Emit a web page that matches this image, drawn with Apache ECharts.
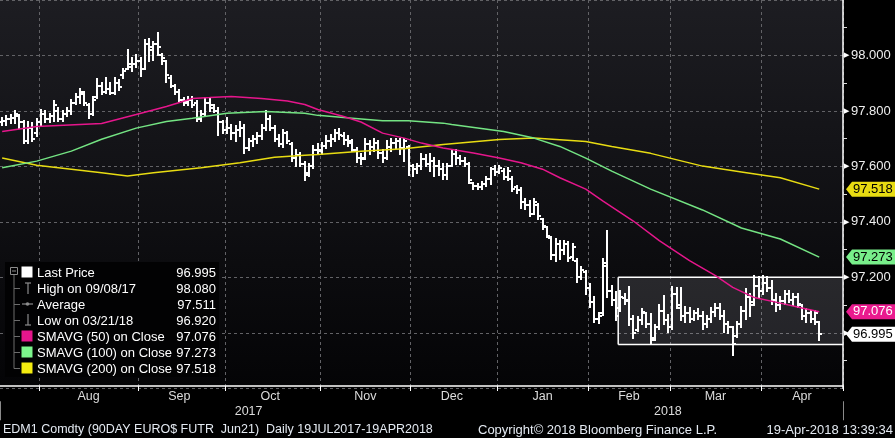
<!doctype html>
<html>
<head>
<meta charset="utf-8">
<script src="https://cdn.jsdelivr.net/npm/echarts@6/dist/echarts.min.js"></script>
<style>
    html, body { margin: 0; padding: 0; background: #000; }
    #chart { width: 895px; height: 438px; }
</style>
</head>
<body>
<div id="chart"></div>
<script type="text/javascript">
    // trading calendar: weekdays between these dates, minus exchange holidays
    var firstDay = '2017-07-19';
    var lastDay = '2018-04-19';
    var holidays = ['2017-09-04', '2017-11-23', '2017-12-25', '2018-01-01', '2018-01-15', '2018-02-19', '2018-03-30'];
    var padDays = 5; // empty days to the right of the last bar

    // daily bars
    var openPx = [97.760,97.765,97.770,97.775,97.780,97.760,97.690,97.740,97.720,97.760,
        97.790,97.770,97.780,97.800,97.770,97.790,97.800,97.830,97.850,97.860,
        97.820,97.790,97.850,97.890,97.870,97.880,97.865,97.900,97.930,97.950,
        97.960,97.970,97.980,97.950,98.040,98.020,98.040,98.000,97.980,97.920,
        97.890,97.870,97.840,97.830,97.840,97.830,97.770,97.790,97.830,97.810,
        97.800,97.760,97.730,97.740,97.720,97.730,97.740,97.665,97.690,97.700,
        97.710,97.740,97.770,97.740,97.700,97.680,97.720,97.680,97.630,97.640,
        97.610,97.570,97.600,97.660,97.660,97.675,97.690,97.700,97.720,97.710,
        97.695,97.685,97.660,97.630,97.630,97.680,97.670,97.685,97.650,97.630,
        97.670,97.685,97.690,97.665,97.670,97.600,97.590,97.600,97.625,97.610,
        97.620,97.600,97.590,97.570,97.600,97.645,97.630,97.620,97.610,97.540,
        97.530,97.525,97.535,97.555,97.590,97.580,97.585,97.560,97.555,97.525,
        97.515,97.470,97.460,97.430,97.460,97.410,97.380,97.340,97.280,97.320,
        97.300,97.320,97.275,97.260,97.200,97.220,97.160,97.110,97.050,97.070,
        97.250,97.150,97.120,97.090,97.125,97.120,97.050,97.010,97.045,97.070,
        97.030,96.980,97.020,97.080,97.045,97.020,97.140,97.090,97.060,97.070,
        97.050,97.070,97.060,97.030,97.050,97.075,97.090,97.060,97.030,97.020,
        96.990,97.030,97.080,97.130,97.110,97.170,97.150,97.180,97.160,97.120,
        97.100,97.115,97.140,97.120,97.130,97.100,97.060,97.070,97.050,97.040];
    var highPx = [97.775,97.780,97.785,97.800,97.785,97.765,97.760,97.755,97.770,97.805,
        97.800,97.790,97.835,97.810,97.800,97.810,97.840,97.860,97.880,97.870,
        97.825,97.850,97.915,97.900,97.920,97.900,97.920,97.910,97.950,98.020,
        97.990,98.000,97.990,98.055,98.060,98.050,98.080,98.005,97.980,97.925,
        97.895,97.875,97.845,97.850,97.850,97.835,97.800,97.845,97.845,97.820,
        97.810,97.765,97.775,97.750,97.745,97.760,97.750,97.700,97.710,97.720,
        97.750,97.800,97.780,97.745,97.715,97.730,97.725,97.685,97.660,97.650,
        97.615,97.610,97.675,97.680,97.685,97.710,97.715,97.730,97.735,97.720,
        97.710,97.695,97.665,97.645,97.700,97.690,97.700,97.690,97.660,97.690,
        97.700,97.700,97.700,97.700,97.675,97.605,97.610,97.645,97.640,97.645,
        97.630,97.620,97.607,97.610,97.655,97.660,97.637,97.630,97.613,97.541,
        97.535,97.545,97.560,97.595,97.600,97.600,97.590,97.595,97.560,97.530,
        97.523,97.481,97.475,97.481,97.463,97.410,97.380,97.344,97.338,97.332,
        97.332,97.326,97.320,97.266,97.236,97.224,97.176,97.128,97.070,97.266,
        97.367,97.170,97.146,97.152,97.140,97.164,97.060,97.057,97.087,97.072,
        97.068,97.027,97.100,97.134,97.063,97.164,97.160,97.160,97.092,97.090,
        97.080,97.085,97.075,97.060,97.090,97.104,97.104,97.080,97.040,97.020,
        97.040,97.092,97.158,97.140,97.204,97.200,97.206,97.200,97.188,97.140,
        97.130,97.150,97.152,97.140,97.140,97.100,97.085,97.080,97.080,97.040];
    var lowPx = [97.750,97.750,97.755,97.755,97.740,97.685,97.685,97.690,97.710,97.750,
        97.760,97.760,97.765,97.765,97.765,97.780,97.790,97.825,97.830,97.820,
        97.775,97.785,97.845,97.860,97.865,97.860,97.860,97.875,97.920,97.950,
        97.945,97.960,97.925,97.950,97.980,97.985,98.000,97.970,97.905,97.885,
        97.860,97.835,97.820,97.820,97.815,97.765,97.765,97.785,97.800,97.795,
        97.715,97.720,97.720,97.700,97.690,97.710,97.650,97.660,97.675,97.685,
        97.700,97.730,97.730,97.690,97.675,97.670,97.685,97.620,97.600,97.600,
        97.550,97.565,97.595,97.645,97.645,97.665,97.675,97.690,97.700,97.680,
        97.675,97.655,97.615,97.610,97.625,97.645,97.655,97.630,97.615,97.625,
        97.655,97.665,97.645,97.620,97.570,97.565,97.575,97.590,97.600,97.585,
        97.565,97.570,97.553,97.555,97.600,97.610,97.607,97.600,97.541,97.520,
        97.520,97.520,97.530,97.535,97.570,97.575,97.553,97.550,97.511,97.505,
        97.451,97.445,97.421,97.430,97.409,97.374,97.344,97.266,97.260,97.266,
        97.284,97.260,97.262,97.182,97.194,97.140,97.093,97.039,97.035,97.063,
        97.128,97.100,97.045,97.080,97.104,97.027,96.980,97.005,97.033,97.020,
        96.961,96.975,97.015,97.033,97.003,97.015,97.090,97.045,97.040,97.040,
        97.045,97.050,97.015,97.020,97.040,97.060,97.050,97.003,97.000,96.920,
        96.985,97.020,97.051,97.060,97.100,97.128,97.140,97.150,97.104,97.080,
        97.085,97.104,97.110,97.100,97.092,97.050,97.039,97.040,97.033,96.973];
    var closePx = [97.765,97.770,97.775,97.790,97.760,97.690,97.740,97.700,97.760,97.790,
        97.770,97.780,97.820,97.770,97.790,97.800,97.830,97.850,97.870,97.830,
        97.790,97.840,97.890,97.870,97.880,97.865,97.900,97.885,97.945,97.970,
        97.970,97.980,97.950,98.040,98.030,98.040,98.030,97.990,97.930,97.890,
        97.870,97.840,97.835,97.840,97.820,97.770,97.790,97.830,97.820,97.800,
        97.760,97.730,97.740,97.720,97.730,97.740,97.665,97.690,97.700,97.710,
        97.740,97.770,97.740,97.700,97.680,97.720,97.690,97.630,97.640,97.610,
        97.575,97.600,97.660,97.655,97.675,97.690,97.700,97.720,97.715,97.695,
        97.690,97.660,97.630,97.625,97.680,97.670,97.685,97.650,97.630,97.670,
        97.685,97.690,97.665,97.690,97.600,97.590,97.600,97.625,97.610,97.620,
        97.600,97.590,97.570,97.600,97.645,97.630,97.620,97.610,97.550,97.530,
        97.525,97.535,97.555,97.590,97.580,97.595,97.560,97.585,97.520,97.515,
        97.470,97.460,97.430,97.470,97.420,97.385,97.350,97.280,97.320,97.300,
        97.320,97.270,97.310,97.200,97.225,97.160,97.110,97.050,97.060,97.240,
        97.150,97.120,97.060,97.130,97.115,97.050,97.000,97.045,97.075,97.030,
        96.975,97.020,97.080,97.045,97.020,97.140,97.100,97.060,97.070,97.050,
        97.070,97.060,97.030,97.050,97.075,97.090,97.060,97.030,97.020,96.960,
        97.030,97.080,97.130,97.100,97.170,97.150,97.180,97.160,97.120,97.100,
        97.115,97.140,97.120,97.130,97.105,97.060,97.070,97.050,97.070,96.995];

    // moving averages, read at [day index, value]
    var sma50 = [[0,97.726],[8,97.744],[23,97.755],[31,97.787],[38,97.816],[44,97.845],[48,97.848],
        [53,97.852],[60,97.845],[66,97.836],[70,97.823],[73,97.805],[79,97.780],[83,97.760],[88,97.720],
        [93,97.702],[97,97.684],[102,97.666],[109,97.648],[115,97.630],[120,97.613],[125,97.590],
        [129,97.559],[135,97.518],[139,97.475],[146,97.403],[152,97.332],[159,97.260],[165,97.206],
        [169,97.164],[174,97.127],[180,97.107],[185,97.089],[189,97.076]];
    var sma100 = [[0,97.595],[8,97.619],[16,97.655],[23,97.698],[31,97.738],[38,97.762],[44,97.774],
        [52,97.792],[61,97.798],[70,97.792],[73,97.784],[81,97.774],[88,97.765],[94,97.765],
        [102,97.756],[104,97.751],[116,97.726],[123,97.702],[129,97.672],[135,97.630],[141,97.583],
        [150,97.518],[162,97.443],[171,97.378],[180,97.338],[189,97.273]];
    var sma200 = [[0,97.630],[8,97.604],[16,97.590],[23,97.577],[29,97.565],[35,97.577],[46,97.595],
        [55,97.613],[63,97.633],[70,97.640],[73,97.643],[83,97.655],[93,97.664],[102,97.679],
        [115,97.697],[123,97.702],[135,97.690],[141,97.672],[150,97.647],[162,97.601],[171,97.580],
        [180,97.559],[189,97.518]];

    // value axis
    var yMin = 96.8, yMax = 98.2, yStep = 0.2;

    // highlighted range box
    var boxStartDay = 143;
    var boxTop = 97.2, boxBottom = 96.958;

    // legend texts and values
    var legendNames = ['Last Price', 'High on 09/08/17', 'Average', 'Low on 03/21/18',
        'SMAVG (50) on Close', 'SMAVG (100) on Close', 'SMAVG (200) on Close'];
    var legendValues = ['96.995', '98.080', '97.511', '96.920', '97.076', '97.273', '97.518'];

    // right-axis price tags
    var tagValues = [97.518, 97.273, 97.076, 96.995];

    var footerLeft = 'EDM1 Comdty (90DAY EURO$ FUTR  Jun21)  Daily 19JUL2017-19APR2018';
    var footerMid = 'Copyright\u00a9 2018 Bloomberg Finance L.P.';
    var footerRight = '19-Apr-2018 13:39:34';

    var MAGENTA = '#e6168c', GREEN = '#74e483', YELLOW = '#e8dc12';
    var FONT = 'Liberation Sans, Arial, sans-serif';
    var monthNames = ['Jan','Feb','Mar','Apr','May','Jun','Jul','Aug','Sep','Oct','Nov','Dec'];

    function buildDays() {
        var out = [];
        var d = new Date(firstDay + 'T00:00:00Z');
        var end = new Date(lastDay + 'T00:00:00Z');
        var extra = 0;
        while (true) {
            var wd = d.getUTCDay();
            var s = d.toISOString().slice(0, 10);
            if (wd !== 0 && wd !== 6 && holidays.indexOf(s) < 0) {
                if (d > end) {
                    if (extra >= padDays) break;
                    extra++;
                }
                out.push(s);
            }
            d.setUTCDate(d.getUTCDate() + 1);
        }
        return out;
    }
    var days = buildDays();

    // month starts (grid lines / ticks), month middles (labels), year middles
    var monthStart = {}, monthMid = {}, yearMid = {}, yearStart = {};
    (function () {
        var groups = {}, order = [], ygroups = {}, yorder = [];
        days.forEach(function (d, i) {
            var m = d.slice(0, 7), y = d.slice(0, 4);
            if (!groups[m]) { groups[m] = [i, i]; order.push(m); if (i > 0) monthStart[i] = true; }
            groups[m][1] = i;
            if (!ygroups[y]) { ygroups[y] = [i, i]; yorder.push(y); if (i > 0) yearStart[i] = true; }
            ygroups[y][1] = i;
        });
        order.forEach(function (m) {
            var g = groups[m];
            if (g[1] - g[0] >= 14) monthMid[Math.floor((g[0] + g[1]) / 2)] = true;
        });
        yorder.forEach(function (y) {
            var g = ygroups[y];
            yearMid[Math.floor((g[0] + g[1]) / 2)] = true;
        });
    })();

    var bars = closePx.map(function (c, i) {
        return [i, openPx[i], highPx[i], lowPx[i], c];
    });

    function renderOhlc(params, api) {
        var i = api.value(0);
        var x = Math.round(api.coord([i, 0])[0]);
        var yo = Math.round(api.coord([i, api.value(1)])[1]);
        var yh = Math.round(api.coord([i, api.value(2)])[1]);
        var yl = Math.round(api.coord([i, api.value(3)])[1]);
        var yc = Math.round(api.coord([i, api.value(4)])[1]);
        var st = { stroke: '#ffffff', lineWidth: 2 };
        return {
            type: 'group',
            children: [
                { type: 'line', shape: { x1: x, y1: yh - 1, x2: x, y2: yl + 1 }, style: st },
                { type: 'line', shape: { x1: x - 3, y1: yo, x2: x, y2: yo }, style: st },
                { type: 'line', shape: { x1: x, y1: yc, x2: x + 3, y2: yc }, style: st }
            ]
        };
    }

    var chart = echarts.init(document.getElementById('chart'));

    var dashed = { color: '#626266', type: [3, 3], width: 1 };

    var option = {
        backgroundColor: '#000',
        animation: false,
        grid: {
            left: -4, right: 52, top: -2.05, height: 390.3,
            show: true, borderWidth: 0,
            backgroundColor: {
                type: 'linear', x: 0, y: 0, x2: 0, y2: 1,
                colorStops: [{ offset: 0, color: '#1d1d22' }, { offset: 1, color: '#040406' }]
            }
        },
        xAxis: [{
            type: 'category', data: days, boundaryGap: true, position: 'bottom', offset: -2.25,
            axisLine: { show: true, onZero: false, lineStyle: { color: '#ffffff', width: 1.5 } },
            axisTick: { show: true, length: 5, interval: function (i) { return !!monthStart[i]; }, lineStyle: { color: '#ffffff' } },
            axisLabel: {
                interval: function (i) { return !!monthMid[i]; },
                formatter: function (v) { return monthNames[+v.slice(5, 7) - 1]; },
                color: '#dcdcdc', fontSize: 12.5, fontFamily: FONT, margin: 4
            },
            splitLine: { show: true, interval: function (i) { return !!monthStart[i]; }, lineStyle: dashed }
        }, {
            type: 'category', data: days, boundaryGap: true, position: 'bottom', offset: 13,
            axisLine: { show: false },
            axisTick: { show: true, length: 19, interval: function (i) { return !!yearStart[i]; }, lineStyle: { color: '#8a8a8a' } },
            axisLabel: {
                interval: function (i) { return !!yearMid[i]; },
                formatter: function (v) { return v.slice(0, 4); },
                color: '#dcdcdc', fontSize: 12.5, fontFamily: FONT, margin: 4
            },
            splitLine: { show: false }
        }],
        yAxis: {
            type: 'value', position: 'right', min: yMin, max: yMax, interval: yStep,
            axisLine: { show: true, lineStyle: { color: '#ffffff', width: 1.5 } },
            axisTick: { show: false },
            minorTick: { show: true, splitNumber: 2, length: 4, lineStyle: { color: '#dddddd' } },
            splitLine: { show: true, lineStyle: dashed },
            axisLabel: {
                showMinLabel: false, showMaxLabel: false, margin: 1,
                formatter: function (v) { return '{t|\u25B6}{v|' + v.toFixed(3) + '}'; },
                rich: {
                    t: { fontSize: 7, color: '#ffffff', padding: [0, 2, 0, 0] },
                    v: { fontSize: 13, color: '#eeeeee', fontFamily: FONT }
                }
            }
        },
        series: [{
            type: 'custom', name: 'Last Price', renderItem: renderOhlc, data: bars,
            encode: { x: 0, y: [1, 2, 3, 4] }, clip: true, silent: true, z: 3
        }, {
            type: 'line', name: 'SMAVG (200)', data: sma200, symbol: 'none', silent: true, z: 4,
            lineStyle: { color: YELLOW, width: 1.5 }
        }, {
            type: 'line', name: 'SMAVG (100)', data: sma100, symbol: 'none', silent: true, z: 4,
            lineStyle: { color: GREEN, width: 1.5 }
        }, {
            type: 'line', name: 'SMAVG (50)', data: sma50, symbol: 'none', silent: true, z: 4,
            lineStyle: { color: MAGENTA, width: 1.5 }
        }]
    };
    chart.setOption(option);

    // overlays positioned through the chart's own scales
    function px(i) { return chart.convertToPixel({ xAxisIndex: 0 }, i); }
    function py(v) { return chart.convertToPixel({ yAxisIndex: 0 }, v); }

    var g = [];
    var band = px(1) - px(0);
    var bx0 = px(boxStartDay) - band / 2;
    var bx1 = px(days.length - 1) + band / 2;
    var by0 = py(boxTop), by1 = py(boxBottom);
    g.push({ type: 'rect', silent: true, z: 1, shape: { x: bx0, y: by0, width: bx1 - bx0, height: by1 - by0 },
        style: { fill: 'rgba(170,170,185,0.18)' } });
    g.push({ type: 'line', silent: true, z: 2, shape: { x1: bx0, y1: by0, x2: bx1, y2: by0 }, style: { stroke: '#fff', lineWidth: 1.5 } });
    g.push({ type: 'line', silent: true, z: 2, shape: { x1: bx0, y1: by1, x2: bx1, y2: by1 }, style: { stroke: '#fff', lineWidth: 1.5 } });
    g.push({ type: 'line', silent: true, z: 2, shape: { x1: bx0, y1: by0, x2: bx0, y2: by1 }, style: { stroke: '#fff', lineWidth: 1.5 } });

    // price tags on the right axis
    var tagFill = [YELLOW, '#78ee8a', '#ea1a8e', '#ffffff'];
    var tagText = ['#000', '#000', '#fff', '#000'];
    var ax = bx1;
    tagValues.forEach(function (v, k) {
        var y = py(v);
        g.push({ type: 'polygon', silent: true, z: 60,
            shape: { points: [[ax + 3, y], [ax + 9, y - 7.5], [895, y - 7.5], [895, y + 7.5], [ax + 9, y + 7.5]] },
            style: { fill: tagFill[k] } });
        g.push({ type: 'text', silent: true, z: 61, x: ax + 10, y: y,
            style: { text: v.toFixed(3), fill: tagText[k], font: '13px ' + FONT, textVerticalAlign: 'middle' } });
    });

    // legend box
    var lgX = 5, lgY = 262, rowH = 16, row0 = 272;
    var gray = '#8c8c8c';
    g.push({ type: 'rect', silent: true, z: 50, shape: { x: lgX, y: lgY, width: 214, height: 115 }, style: { fill: '#020203' } });
    g.push({ type: 'rect', silent: true, z: 51, shape: { x: 10.5, y: 267.5, width: 7, height: 7 }, style: { fill: 'none', stroke: gray, lineWidth: 1 } });
    g.push({ type: 'line', silent: true, z: 51, shape: { x1: 12, y1: 271, x2: 16, y2: 271 }, style: { stroke: gray, lineWidth: 1 } });
    g.push({ type: 'line', silent: true, z: 51, shape: { x1: 14, y1: 275, x2: 14, y2: row0 + 6 * rowH + 0.5 }, style: { stroke: '#6c6c6c', lineWidth: 1 } });
    var iconColors = ['#ffffff', null, null, null, MAGENTA, '#7cf68c', '#f4ec10'];
    legendNames.forEach(function (name, k) {
        var y = row0 + k * rowH;
        if (k > 0) g.push({ type: 'line', silent: true, z: 51, shape: { x1: 14, y1: y + 0.5, x2: 20, y2: y + 0.5 }, style: { stroke: '#6c6c6c', lineWidth: 1 } });
        if (iconColors[k]) {
            g.push({ type: 'rect', silent: true, z: 51, shape: { x: 21.5, y: y - 5.5, width: 11, height: 11 }, style: { fill: iconColors[k] } });
        } else if (k === 1) {
            g.push({ type: 'line', silent: true, z: 51, shape: { x1: 25, y1: y - 5, x2: 31, y2: y - 5 }, style: { stroke: gray, lineWidth: 1.2 } });
            g.push({ type: 'line', silent: true, z: 51, shape: { x1: 28, y1: y - 5, x2: 28, y2: y + 6 }, style: { stroke: gray, lineWidth: 1.2 } });
        } else if (k === 2) {
            g.push({ type: 'line', silent: true, z: 51, shape: { x1: 22, y1: y, x2: 33, y2: y }, style: { stroke: gray, lineWidth: 1.2 } });
            g.push({ type: 'circle', silent: true, z: 51, shape: { cx: 27.5, cy: y, r: 1.8 }, style: { fill: gray } });
        } else if (k === 3) {
            g.push({ type: 'line', silent: true, z: 51, shape: { x1: 28, y1: y - 6, x2: 28, y2: y + 5 }, style: { stroke: gray, lineWidth: 1.2 } });
            g.push({ type: 'line', silent: true, z: 51, shape: { x1: 25, y1: y + 5, x2: 31, y2: y + 5 }, style: { stroke: gray, lineWidth: 1.2 } });
        }
        g.push({ type: 'text', silent: true, z: 52, x: 37, y: y + 1,
            style: { text: name, fill: '#ffffff', font: '13px ' + FONT, textVerticalAlign: 'middle' } });
        g.push({ type: 'text', silent: true, z: 52, x: 216, y: y + 1,
            style: { text: legendValues[k], fill: '#ffffff', font: '13px ' + FONT, textAlign: 'right', textVerticalAlign: 'middle' } });
    });

    // footer line
    var footY = 430;
    g.push({ type: 'text', silent: true, z: 50, x: 3, y: footY,
        style: { text: footerLeft, fill: '#e4eaf2', font: '12.5px ' + FONT, textVerticalAlign: 'middle' } });
    g.push({ type: 'text', silent: true, z: 50, x: 478, y: footY,
        style: { text: footerMid, fill: '#e4eaf2', font: '13px ' + FONT, textVerticalAlign: 'middle' } });
    g.push({ type: 'text', silent: true, z: 50, x: 893, y: footY,
        style: { text: footerRight, fill: '#e4eaf2', font: '13px ' + FONT, textAlign: 'right', textVerticalAlign: 'middle' } });

    chart.setOption({ graphic: g });
</script>
</body>
</html>
